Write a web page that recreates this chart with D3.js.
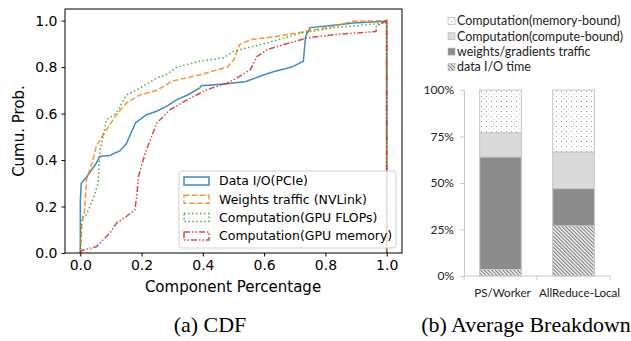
<!DOCTYPE html>
<html>
<head>
<meta charset="utf-8">
<script src="https://cdn.jsdelivr.net/npm/d3@7"></script>
<style>
  body { margin: 0; background: #fff; }
  svg { display: block; }
</style>
</head>
<body>
<svg id="chart" width="631" height="341"></svg>
<script>
// ---- data: CDF curves (component share, cumulative prob.)
let ioShare   = [0, 0, 0.003, 0.022, 0.052, 0.063, 0.096, 0.13, 0.15, 0.18, 0.216, 0.249, 0.28, 0.315, 0.35, 0.39, 0.395, 0.48, 0.54, 0.6, 0.63, 0.69, 0.728, 0.735, 0.75, 0.85, 0.89, 1.0];
let ioProb    = [0, 0.22, 0.30, 0.33, 0.386, 0.415, 0.42, 0.44, 0.47, 0.56, 0.595, 0.61, 0.63, 0.66, 0.68, 0.71, 0.72, 0.728, 0.738, 0.767, 0.78, 0.80, 0.825, 0.93, 0.97, 0.983, 0.99, 0.997];
let nvShare   = [0, 0.005, 0.014, 0.02, 0.041, 0.052, 0.085, 0.118, 0.15, 0.194, 0.25, 0.30, 0.39, 0.48, 0.50, 0.52, 0.555, 0.63, 0.72, 0.83, 0.89, 1.0];
let nvProb    = [0, 0.12, 0.185, 0.315, 0.40, 0.46, 0.53, 0.595, 0.645, 0.68, 0.70, 0.74, 0.767, 0.80, 0.83, 0.897, 0.918, 0.93, 0.95, 0.977, 0.997, 1.0];
let flopShare = [0, 0.003, 0.02, 0.041, 0.058, 0.063, 0.065, 0.085, 0.118, 0.15, 0.195, 0.25, 0.28, 0.315, 0.39, 0.468, 0.50, 0.61, 0.72, 0.83, 1.0];
let flopProb  = [0, 0.15, 0.165, 0.23, 0.30, 0.415, 0.444, 0.573, 0.602, 0.68, 0.71, 0.753, 0.767, 0.80, 0.825, 0.84, 0.868, 0.904, 0.947, 0.97, 0.99];
let memShare  = [0, 0.003, 0.052, 0.096, 0.118, 0.15, 0.178, 0.184, 0.19, 0.205, 0.216, 0.25, 0.293, 0.35, 0.413, 0.479, 0.52, 0.555, 0.577, 0.61, 0.664, 0.74, 0.83, 0.965, 0.966, 1.0];
let memProb   = [0, 0.01, 0.027, 0.085, 0.128, 0.157, 0.185, 0.243, 0.33, 0.40, 0.444, 0.56, 0.617, 0.66, 0.703, 0.731, 0.76, 0.789, 0.846, 0.875, 0.897, 0.925, 0.94, 0.953, 0.975, 1.0];
let cdfNames = ["Data I/O(PCIe)", "Weights traffic (NVLink)", "Computation(GPU FLOPs)", "Computation(GPU memory)"];
let xTicks = [0, 0.2, 0.4, 0.6, 0.8, 1.0];
let yTicks = [0, 0.2, 0.4, 0.6, 0.8, 1.0];

// ---- data: average breakdown (percent)
let setups = ["PS/Worker", "AllReduce-Local"];
let parts = ["data I/O time", "weights/gradients traffic", "Computation(compute-bound)", "Computation(memory-bound)"];
let ioPct = [3.5, 27];
let trafficPct = [60.5, 20];
let computePct = [13, 19.7];
let memoryPct = [23, 33.3];
let pctTicks = [0, 25, 50, 75, 100];

let svg = d3.select("#chart");

// patterns for the bar chart
let defs = svg.append("defs");
let dots = defs.append("pattern").attr("id", "dots").attr("patternUnits", "userSpaceOnUse")
  .attr("width", 5).attr("height", 5);
dots.append("rect").attr("width", 5).attr("height", 5).attr("fill", "#fff");
dots.append("rect").attr("x", 1).attr("y", 1).attr("width", 1).attr("height", 1).attr("fill", "#9a9a9a");
dots.append("rect").attr("x", 3.5).attr("y", 3.5).attr("width", 1).attr("height", 1).attr("fill", "#c8c8c8");
let hatch = defs.append("pattern").attr("id", "hatch").attr("patternUnits", "userSpaceOnUse")
  .attr("width", 2.6).attr("height", 2.6).attr("patternTransform", "rotate(-45)");
hatch.append("rect").attr("width", 2.6).attr("height", 2.6).attr("fill", "#fff");
hatch.append("rect").attr("width", 1.2).attr("height", 2.6).attr("fill", "#7a7a7a");

// ================= (a) CDF =================
let x = d3.scaleLinear().domain([-0.05, 1.05]).range([65, 402]);
let y = d3.scaleLinear().domain([0, 1.05]).range([253, 9]);

let series = [
  { name: cdfNames[0], xs: ioShare, ps: ioProb, color: "#1f77b4", dash: null },
  { name: cdfNames[1], xs: nvShare, ps: nvProb, color: "#ff7f0e", dash: "5.5,2.4" },
  { name: cdfNames[2], xs: flopShare, ps: flopProb, color: "#2ca02c", dash: "1.5,2.5" },
  { name: cdfNames[3], xs: memShare, ps: memProb, color: "#d62728", dash: "6,2,1.5,2,1.5,2" }
];

let line = d3.line().x((d) => x(d[0])).y((d) => y(d[1]));

let plotA = svg.append("g");
series.forEach((s) => {
  let pts = s.xs.map((v, i) => [v, s.ps[i]]);
  pts.push([1.0, 0]);
  plotA.append("path")
    .attr("d", line(pts))
    .attr("fill", "none")
    .attr("stroke", s.color)
    .attr("stroke-opacity", 0.85)
    .attr("stroke-width", 1.5)
    .attr("stroke-dasharray", s.dash);
});

plotA.append("rect").attr("x", 65).attr("y", 9).attr("width", 337).attr("height", 244)
  .attr("fill", "none").attr("stroke", "#000").attr("stroke-width", 1);

let xAxis = plotA.append("g").attr("transform", "translate(0,253)")
  .call(d3.axisBottom(x).tickValues(xTicks).tickFormat(d3.format(".1f")).tickSizeOuter(0).tickSize(3.5).tickPadding(4));
let yAxis = plotA.append("g").attr("transform", "translate(65,0)")
  .call(d3.axisLeft(y).tickValues(yTicks).tickFormat(d3.format(".1f")).tickSizeOuter(0).tickSize(3.5).tickPadding(4));
[xAxis, yAxis].forEach((a) => {
  a.select(".domain").remove();
  a.selectAll("text").attr("font-family", "DejaVu Sans").attr("font-size", 14).attr("fill", "#000");
});

plotA.append("text").attr("x", 233).attr("y", 292).attr("text-anchor", "middle")
  .attr("font-family", "DejaVu Sans").attr("font-size", 15).text("Component Percentage");
plotA.append("text").attr("transform", "translate(24,131) rotate(-90)").attr("text-anchor", "middle")
  .attr("font-family", "DejaVu Sans").attr("font-size", 15).text("Cumu. Prob.");

// legend
let legA = plotA.append("g");
legA.append("rect").attr("x", 179).attr("y", 171).attr("width", 217).attr("height", 77).attr("rx", 3)
  .attr("fill", "#fff").attr("fill-opacity", 0.8).attr("stroke", "#d0d0d0");
series.forEach((s, i) => {
  let yy = 181 + i * 18.3;
  legA.append("rect").attr("x", 184).attr("y", yy - 4).attr("width", 25).attr("height", 8)
    .attr("fill", "none").attr("stroke", s.color).attr("stroke-width", 1.5)
    .attr("stroke-opacity", 0.85).attr("stroke-dasharray", s.dash);
  legA.append("text").attr("x", 219).attr("y", yy).attr("dy", "0.35em")
    .attr("font-family", "DejaVu Sans").attr("font-size", 12.5).text(s.name);
});

// ================= (b) Average Breakdown =================
let xb = d3.scaleBand().domain(setups).range([464, 610]).paddingInner(0.43).paddingOuter(0.215);
let yb = d3.scaleLinear().domain([0, 100]).range([276, 90]);

let rows = setups.map((s, i) => ({ setup: s, io: ioPct[i], traffic: trafficPct[i], compute: computePct[i], memory: memoryPct[i] }));
let keys = ["io", "traffic", "compute", "memory"];
let fills = { io: "url(#hatch)", traffic: "#8c8c8c", compute: "#dadada", memory: "url(#dots)" };
let stack = d3.stack().keys(keys)(rows);

let plotB = svg.append("g");
plotB.selectAll("g.layer").data(stack).join("g").attr("class", "layer")
  .selectAll("rect").data((d) => d.map((v) => Object.assign(v, { key: d.key })))
  .join("rect")
  .attr("x", (d) => xb(d.data.setup))
  .attr("width", xb.bandwidth())
  .attr("y", (d) => yb(d[1]))
  .attr("height", (d) => yb(d[0]) - yb(d[1]))
  .attr("fill", (d) => fills[d.key])
  .attr("stroke", "#c4c4c4")
  .attr("stroke-width", 1);

let yAxisB = plotB.append("g").attr("transform", "translate(464,0)")
  .call(d3.axisLeft(yb).tickValues(pctTicks).tickFormat((d) => d + "%").tickSizeOuter(0).tickSize(4).tickPadding(6));
yAxisB.select(".domain").attr("stroke", "#c8c8c8");
yAxisB.selectAll("line").attr("stroke", "#c8c8c8");
yAxisB.selectAll("text").attr("font-family", "Lato").attr("font-size", 12).attr("fill", "#222");

let xAxisB = plotB.append("g").attr("transform", "translate(0,276)");
xAxisB.append("line").attr("x1", 464).attr("x2", 610).attr("y1", 0).attr("y2", 0).attr("stroke", "#c8c8c8");
[464, 537, 610].forEach((tx) => {
  xAxisB.append("line").attr("x1", tx).attr("x2", tx).attr("y1", 0).attr("y2", 4).attr("stroke", "#c8c8c8");
});
let labelShift = [2, 6];
setups.forEach((s, i) => {
  xAxisB.append("text").attr("x", xb(s) + xb.bandwidth() / 2 + labelShift[i]).attr("y", 21).attr("text-anchor", "middle")
    .attr("font-family", "Lato").attr("font-size", 11.6).attr("fill", "#222").text(s);
});

// legend (top to bottom reversed order of stack)
let legB = plotB.append("g");
parts.slice().reverse().forEach((p, i) => {
  let k = keys[keys.length - 1 - i];
  let yy = 21 + i * 15.3;
  legB.append("rect").attr("x", 448).attr("y", yy - 3.5).attr("width", 7).attr("height", 7)
    .attr("fill", fills[k]).attr("stroke", "#b0b0b0").attr("stroke-width", 0.6);
  legB.append("text").attr("x", 457).attr("y", yy).attr("dy", "0.35em")
    .attr("font-family", "Lato").attr("font-size", 12.5).attr("fill", "#222").text(p);
});

// captions
svg.append("text").attr("x", 210).attr("y", 332).attr("text-anchor", "middle")
  .attr("font-family", "Liberation Serif").attr("font-size", 22).text("(a) CDF");
svg.append("text").attr("x", 526).attr("y", 332).attr("text-anchor", "middle")
  .attr("font-family", "Liberation Serif").attr("font-size", 22).text("(b) Average Breakdown");
</script>
</body>
</html>
